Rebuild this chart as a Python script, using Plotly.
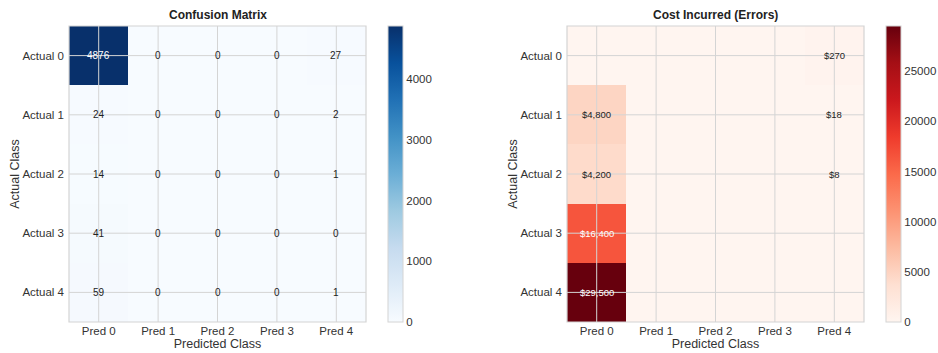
import plotly.graph_objects as go

pred_labels = ["Pred 0", "Pred 1", "Pred 2", "Pred 3", "Pred 4"]
actual_labels = ["Actual 0", "Actual 1", "Actual 2", "Actual 3", "Actual 4"]

confusion = [
    [4876, 0, 0, 0, 27],
    [24, 0, 0, 0, 2],
    [14, 0, 0, 0, 1],
    [41, 0, 0, 0, 0],
    [59, 0, 0, 0, 1],
]

costs = [
    [0, 0, 0, 0, 270],
    [4800, 0, 0, 0, 18],
    [4200, 0, 0, 0, 8],
    [16400, 0, 0, 0, 0],
    [29500, 0, 0, 0, 0],
]

cm_ticks = [0, 1000, 2000, 3000, 4000]
cost_ticks = [0, 5000, 10000, 15000, 20000, 25000]

blues = ["#f7fbff", "#deebf7", "#c6dbef", "#9ecae1", "#6baed6",
         "#4292c6", "#2171b5", "#08519c", "#08306b"]
reds = ["#fff5f0", "#fee0d2", "#fcbba1", "#fc9272", "#fb6a4a",
        "#ef3b2c", "#cb181d", "#a50f15", "#67000d"]

W, H = 938, 353
FONT = "Liberation Sans, Arial, sans-serif"
GRID = "#d4d4d4"

def cs(colors):
    n = len(colors) - 1
    return [[i / n, c] for i, c in enumerate(colors)]

top_px, bot_px = 26, 322
ydom = [1 - bot_px / H, 1 - top_px / H]
x1dom = [69 / W, 366 / W]
x2dom = [567 / W, 864 / W]
cb_len = (bot_px - top_px) / H
cb_y = 1 - (top_px + bot_px) / 2 / H

idx = list(range(5))

fig = go.Figure()

fig.add_trace(go.Heatmap(
    z=confusion, x=idx, y=idx, xaxis="x", yaxis="y",
    colorscale=cs(blues), zmin=0, zmax=max(max(r) for r in confusion),
    xgap=0, ygap=0, hoverinfo="skip",
    colorbar=dict(x=388 / W, xanchor="left", xpad=0, ypad=0,
                  y=cb_y, yanchor="middle", len=cb_len, lenmode="fraction",
                  thickness=15, outlinecolor=GRID, outlinewidth=1,
                  tickvals=cm_ticks, ticks="", tickformat="d",
                  tickfont=dict(family=FONT, size=11.5, color="#333")),
))

fig.add_trace(go.Heatmap(
    z=costs, x=idx, y=idx, xaxis="x2", yaxis="y2",
    colorscale=cs(reds), zmin=0, zmax=max(max(r) for r in costs),
    hoverinfo="skip",
    colorbar=dict(x=886 / W, xanchor="left", xpad=0, ypad=0,
                  y=cb_y, yanchor="middle", len=cb_len, lenmode="fraction",
                  thickness=15, outlinecolor=GRID, outlinewidth=1,
                  tickvals=cost_ticks, ticks="", tickformat="d",
                  tickfont=dict(family=FONT, size=11.5, color="#333")),
))

annotations = []
cm_max = max(max(r) for r in confusion)
for i, row in enumerate(confusion):
    for j, v in enumerate(row):
        annotations.append(dict(
            x=j, y=i, xref="x", yref="y", text=str(v), showarrow=False,
            font=dict(family=FONT, size=10,
                      color="white" if v > cm_max / 2 else "#222")))
cost_max = max(max(r) for r in costs)
for i, row in enumerate(costs):
    for j, v in enumerate(row):
        if v == 0:
            continue
        annotations.append(dict(
            x=j, y=i, xref="x2", yref="y2", text=f"${v:,}", showarrow=False,
            font=dict(family=FONT, size=9.5,
                      color="white" if v > cost_max / 2 else "#222")))

annotations.append(dict(x=(x1dom[0] + x1dom[1]) / 2, y=1 - 15 / H, xref="paper", yref="paper",
                        xanchor="center", yanchor="middle",
                        text="<b>Confusion Matrix</b>", showarrow=False,
                        font=dict(family=FONT, size=12, color="#222")))
annotations.append(dict(x=(x2dom[0] + x2dom[1]) / 2, y=1 - 15 / H, xref="paper", yref="paper",
                        xanchor="center", yanchor="middle",
                        text="<b>Cost Incurred (Errors)</b>", showarrow=False,
                        font=dict(family=FONT, size=12, color="#222")))

shapes = []
for xa, ya in (("x", "y"), ("x2", "y2")):
    for k in idx:
        shapes.append(dict(type="line", xref=xa, yref=f"{ya} domain", x0=k, x1=k, y0=0, y1=1,
                           line=dict(color=GRID, width=1), layer="above"))
        shapes.append(dict(type="line", xref=f"{xa} domain", yref=ya, x0=0, x1=1, y0=k, y1=k,
                           line=dict(color=GRID, width=1), layer="above"))
    shapes.append(dict(type="rect", xref=f"{xa} domain", yref=f"{ya} domain", x0=0, x1=1, y0=0, y1=1,
                       line=dict(color=GRID, width=1.2), layer="above"))

def xaxis(dom, anchor):
    return dict(domain=dom, anchor=anchor, tickvals=idx, ticktext=pred_labels,
                range=[-0.5, 4.5], showgrid=False, zeroline=False, ticks="",
                automargin=False,
                tickfont=dict(family=FONT, size=11.5, color="#333"),
                title=dict(text="Predicted Class", standoff=0,
                           font=dict(family=FONT, size=12.5, color="#333")))

def yaxis(anchor):
    return dict(domain=ydom, anchor=anchor, tickvals=idx, ticktext=actual_labels,
                range=[4.5, -0.5], showgrid=False, zeroline=False, ticks="",
                ticklabelstandoff=4, automargin=False,
                tickfont=dict(family=FONT, size=11.5, color="#333"),
                title=dict(text="Actual Class", standoff=0,
                           font=dict(family=FONT, size=12.5, color="#333")))

fig.update_layout(
    width=W, height=H, margin=dict(l=0, r=0, t=0, b=0, autoexpand=False),
    paper_bgcolor="white", plot_bgcolor="white",
    xaxis=xaxis(x1dom, "y"), yaxis=yaxis("x"),
    xaxis2=xaxis(x2dom, "y2"), yaxis2=yaxis("x2"),
    annotations=annotations, shapes=shapes, showlegend=False,
    font=dict(family=FONT),
)

fig.write_html(
    "out.html",
    config={"displayModeBar": False},
    post_script="document.body.style.margin='0';document.body.style.overflow='hidden';",
)
